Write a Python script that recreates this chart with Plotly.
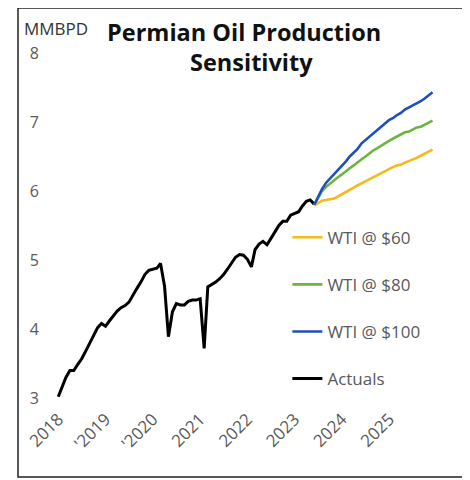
import pandas as pd
import plotly.graph_objects as go

# ---- data (MMBPD) ----
actual_dates = pd.date_range("2018-01-01", "2023-06-01", freq="MS")
actuals = [3.02, 3.17, 3.30, 3.40, 3.40, 3.49, 3.57, 3.68, 3.80, 3.92, 4.02, 4.08,
           4.04, 4.12, 4.19, 4.26, 4.31, 4.34, 4.39, 4.50, 4.59, 4.68, 4.79, 4.85,
           4.87, 4.88, 4.95, 4.62, 3.89, 4.25, 4.37, 4.35, 4.35, 4.40, 4.42, 4.42,
           4.44, 3.72, 4.61, 4.64, 4.68, 4.73, 4.79, 4.87, 4.96, 5.04, 5.08, 5.07,
           5.01, 4.90, 5.15, 5.23, 5.27, 5.22, 5.31, 5.41, 5.50, 5.56, 5.56, 5.65,
           5.68, 5.70, 5.78, 5.85, 5.87, 5.81]

fc_dates = pd.date_range("2023-06-01", "2025-12-01", freq="MS")
wti_60 = [5.79, 5.82, 5.86, 5.87, 5.88, 5.89, 5.92, 5.95, 5.99, 6.02, 6.05, 6.08,
          6.11, 6.14, 6.18, 6.21, 6.23, 6.26, 6.29, 6.32, 6.35, 6.37, 6.38, 6.41,
          6.43, 6.45, 6.48, 6.51, 6.54, 6.57, 6.60]
wti_80 = [5.80, 5.90, 6.00, 6.06, 6.11, 6.15, 6.20, 6.24, 6.29, 6.33, 6.37, 6.42,
          6.46, 6.50, 6.55, 6.59, 6.62, 6.66, 6.70, 6.73, 6.76, 6.79, 6.82, 6.85,
          6.86, 6.89, 6.92, 6.93, 6.96, 6.99, 7.02]
wti_100 = [5.80, 5.92, 6.03, 6.12, 6.18, 6.24, 6.31, 6.37, 6.43, 6.50, 6.55, 6.61,
           6.69, 6.74, 6.79, 6.84, 6.89, 6.94, 6.98, 7.03, 7.06, 7.10, 7.13, 7.18,
           7.21, 7.23, 7.27, 7.30, 7.34, 7.39, 7.43]

tick_vals = ["2018-01-01", "2019-01-01", "2020-01-01", "2021-01-01",
             "2022-01-01", "2023-01-01", "2024-01-01", "2025-01-01"]
tick_text = ["2018", "'2019", "'2020", "2021", "2022", "2023", "2024", "2025"]
y_ticks = [3, 4, 5, 6, 7, 8]

FONT = "Open Sans"
GREY = "#595959"

fig = go.Figure()
fig.add_trace(go.Scatter(x=actual_dates, y=actuals, mode="lines", name="Actuals",
                         line=dict(color="#000000", width=3), legendrank=4,
                         legendgroup="d"))
fig.add_trace(go.Scatter(x=fc_dates, y=wti_60, mode="lines", name="WTI @ $60",
                         line=dict(color="#F4B91A", width=2.6), legendrank=1,
                         legendgroup="a"))
fig.add_trace(go.Scatter(x=fc_dates, y=wti_80, mode="lines", name="WTI @ $80",
                         line=dict(color="#6DB33F", width=2.6), legendrank=2,
                         legendgroup="b"))
fig.add_trace(go.Scatter(x=fc_dates, y=wti_100, mode="lines", name="WTI @ $100",
                         line=dict(color="#1F4FB8", width=2.6), legendrank=3,
                         legendgroup="c"))

fig.update_layout(
    width=470, height=480,
    margin=dict(l=32, r=18, t=38, b=83),
    paper_bgcolor="white", plot_bgcolor="white",
    font=dict(family=FONT, color=GREY, size=15),
    showlegend=True,
    legend=dict(x=0.589, y=0.516, xanchor="left", yanchor="top",
                bgcolor="rgba(0,0,0,0)", font=dict(size=17, color=GREY),
                tracegroupgap=22, traceorder="grouped"),
    xaxis=dict(type="date", range=["2017-08-13", "2026-07-01"],
               tickvals=tick_vals, ticktext=tick_text, tickangle=-45,
               showgrid=False, zeroline=False, showline=False, ticks="",
               tickfont=dict(size=17, color=GREY)),
    yaxis=dict(range=[2.9, 8.1], tickvals=y_ticks, showgrid=False,
               zeroline=False, showline=False, ticks="",
               tickfont=dict(size=16, color=GREY)),
)

fig.add_shape(type="rect", xref="paper", yref="paper",
              x0=(18 - 40) / 420, x1=(465 - 40) / 420,
              y0=(405 - 477) / 359, y1=(405 - 8) / 359,
              line=dict(color="#222222", width=1.5))

fig.add_annotation(text="Permian Oil Production", xref="paper", yref="paper",
                   x=(243.5 - 40) / 420, y=(405 - 32) / 359, xanchor="center",
                   yanchor="middle", showarrow=False,
                   font=dict(family=FONT, size=23.5, color="#111111", weight="bold"))
fig.add_annotation(text="Sensitivity", xref="paper", yref="paper",
                   x=(251 - 40) / 420, y=(405 - 62) / 359, xanchor="center",
                   yanchor="middle", showarrow=False,
                   font=dict(family=FONT, size=23.5, color="#111111", weight="bold"))
fig.add_annotation(text="MMBPD", xref="paper", yref="paper",
                   x=(22 - 40) / 420, y=(405 - 28) / 359, xanchor="left",
                   yanchor="middle", showarrow=False,
                   font=dict(family=FONT, size=17, color="#333333"))

fig.write_html("out.html")
